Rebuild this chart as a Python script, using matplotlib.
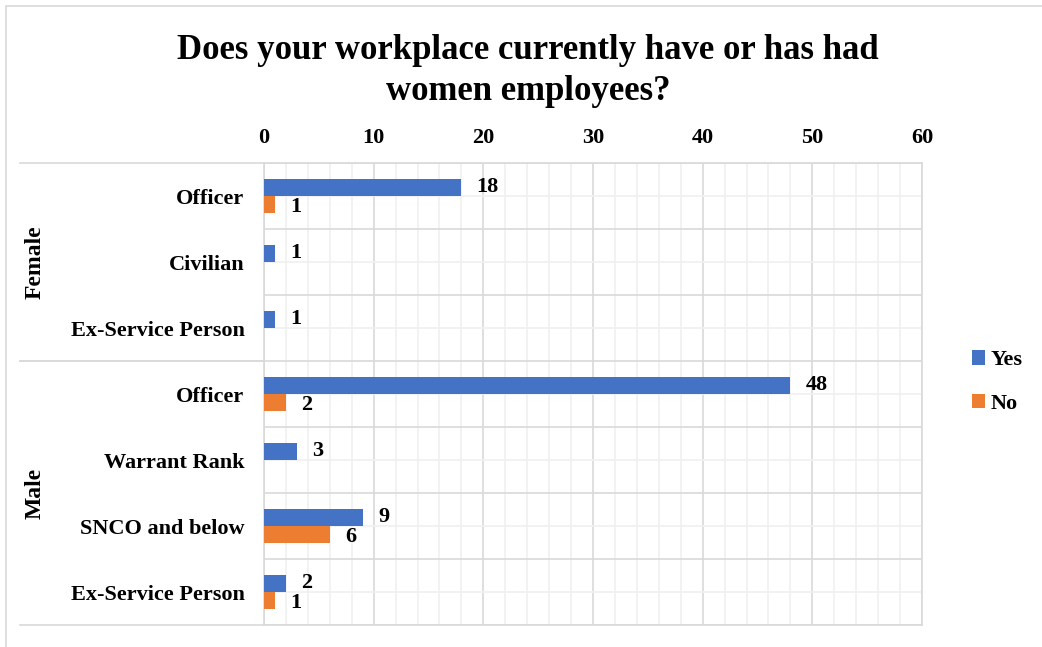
import numpy as np
import matplotlib.pyplot as plt
from matplotlib.patches import Patch, Rectangle
import matplotlib.transforms as mtransforms

plt.rcParams["font.family"] = ["Liberation Serif", "DejaVu Serif"]
plt.rcParams["font.weight"] = "bold"

# survey responses, listed top to bottom
groups = ["Female", "Male"]
group_sizes = [3, 4]
categories = ["Officer", "Civilian", "Ex-Service Person",
              "Officer", "Warrant Rank", "SNCO and below", "Ex-Service Person"]
yes_counts = [18, 1, 1, 48, 3, 9, 2]
no_counts = [1, None, None, 2, None, 6, 1]

BLUE = "#4472C4"
ORANGE = "#ED7D31"
GRID_MAJOR = "#d9d9d9"
GRID_MINOR = "#f0f0f0"
FS = 16

fig = plt.figure(figsize=(10.42, 6.47), dpi=100)
ax = fig.add_axes([264 / 1042, 1 - 625 / 647, 658 / 1042, 462 / 647])

# outer chart frame
fig.add_artist(Rectangle((6 / 1042, -0.1), 1.2, 1 - 6 / 647 + 0.1,
                         transform=fig.transFigure, fill=False,
                         edgecolor=GRID_MAJOR, linewidth=1.2))

n = len(categories)
y = np.arange(n)
h = 0.26

yes_arr = np.array(yes_counts, dtype=float)
no_arr = np.array([np.nan if v is None else v for v in no_counts])

ax.barh(y - h / 2, yes_arr, height=h, color=BLUE, label="Yes", zorder=3)
ax.barh(y + h / 2, np.nan_to_num(no_arr), height=h, color=ORANGE, label="No", zorder=3)

for yi, v in zip(y, yes_counts):
    ax.annotate(str(v), (v, yi - h / 2), xytext=(11, 0), textcoords="offset points",
                va="center", ha="left", fontsize=FS, fontweight="bold")
for yi, v in zip(y, no_counts):
    if v is None:
        continue
    ax.annotate(str(v), (v, yi + h / 2), xytext=(11, -2), textcoords="offset points",
                va="center", ha="left", fontsize=FS, fontweight="bold")

ax.set_xlim(0, 60)
ax.set_ylim(n - 0.5, -0.5)

ax.xaxis.tick_top()
ax.set_xticks(np.arange(0, 61, 10))
ax.set_yticks(y)
ax.set_yticklabels(categories)
ax.tick_params(axis="x", which="both", length=0, pad=11, labelsize=FS)
ax.tick_params(axis="y", which="both", length=0, pad=14, labelsize=FS)
for lbl in ax.get_xticklabels() + ax.get_yticklabels():
    lbl.set_fontweight("bold")

# major lines at category edges and every 10, light lines at centres and every 2
for xv in np.arange(0, 61, 2):
    ax.axvline(xv, color=GRID_MAJOR if xv % 10 == 0 else GRID_MINOR,
               linewidth=1.2, zorder=1)
for yb in np.arange(-0.5, n, 1.0):
    ax.axhline(yb, color=GRID_MAJOR, linewidth=1.2, zorder=1)
for yc in y:
    ax.axhline(yc, color=GRID_MINOR, linewidth=1.2, zorder=1)

for sp in ax.spines.values():
    sp.set_color(GRID_MAJOR)
    sp.set_linewidth(1.2)

# group separators reaching into the label area, plus group names
trans = mtransforms.blended_transform_factory(ax.transAxes, ax.transData)
left_edge = (20 - 264) / 658
start = 0
for name, size in zip(groups, group_sizes):
    for yb in (start - 0.5, start + size - 0.5):
        ax.plot([left_edge, 0], [yb, yb], color=GRID_MAJOR, linewidth=1.2,
                transform=trans, clip_on=False)
    ax.text((35 - 264) / 658, start + (size - 1) / 2, name, transform=trans,
            rotation=90, ha="center", va="center", fontsize=FS + 1, fontweight="bold")
    start += size

fig.text(528 / 1042, 1 - 71 / 647,
         "Does your workplace currently have or has had\nwomen employees?",
         ha="center", va="center", fontsize=25, fontweight="bold", linespacing=1.3)

handles = [Patch(facecolor=BLUE, label="Yes"), Patch(facecolor=ORANGE, label="No")]
fig.legend(handles=handles, loc="center left", bbox_to_anchor=(952 / 1042, 1 - 382 / 647),
           frameon=False, handlelength=0.6, handleheight=0.6,
           handletextpad=0.25, labelspacing=1.05, prop={"weight": "bold", "size": FS})

fig.savefig("out.png", dpi=100)
